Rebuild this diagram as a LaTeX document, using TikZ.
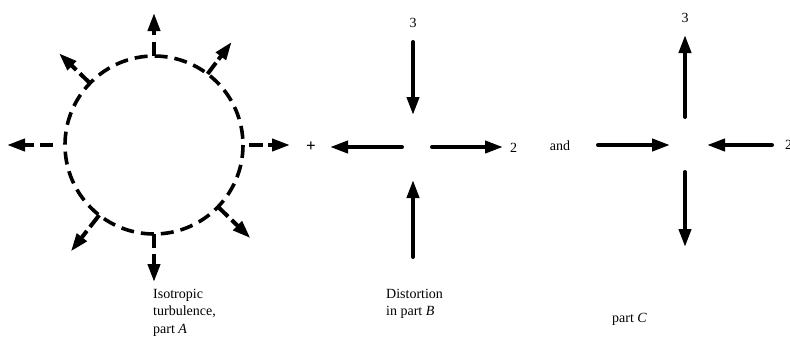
\documentclass[tikz,border=0pt]{standalone}
\usepackage{fontspec}
\setmainfont{Liberation Serif}
\usetikzlibrary{arrows.meta}
\begin{document}
\begin{tikzpicture}[x=1pt,y=-1pt,
  thick arrow/.style={line width=4pt,line cap=round,-{Triangle[length=18pt,width=12pt]}},
  stem/.style={line width=4pt},
  ring/.style={line width=3.6pt,dash pattern=on 13pt off 7pt},
  lbl/.style={font=\fontsize{14}{17}\selectfont,inner sep=0pt},
  txt/.style={font=\fontsize{14}{17.5}\selectfont,align=left,inner sep=0pt,anchor=north west}]
\useasboundingbox (0,0) rectangle (790,357);
% part A
\coordinate (ca) at (154,145);
\draw[ring] (ca) circle (89);
\foreach \a/\ri/\ro/\hi/\ho in {90/89/103/109/137, 180/101/114/120/147, 0/95/109/114/136, 270/89/103/110/132, 128/89/104/109/135, 44/89/103/108/134, 224/89/103/108/132, -53/89/103/107/129}{
  \draw[stem] ([shift={(\a:\ri)}]ca) -- ([shift={(\a:\ro)}]ca);
  \draw[thick arrow,line cap=butt] ([shift={(\a:\hi)}]ca) -- ([shift={(\a:\ho)}]ca);
}
\node[lbl,font=\fontsize{17}{17}\selectfont\bfseries] (plus) at (311,147) {+};
% part B
\coordinate (cb) at (413,147);
\coordinate (b1) at (413,42);  \coordinate (b1t) at (413,115);
\coordinate (b2) at (413,257); \coordinate (b2t) at (413,180);
\coordinate (b3) at (402,147); \coordinate (b3t) at (330,147);
\coordinate (b4) at (432,147); \coordinate (b4t) at (503,147);
\draw[thick arrow] (b1) -- (b1t);
\draw[thick arrow] (b2) -- (b2t);
\draw[thick arrow] (b3) -- (b3t);
\draw[thick arrow] (b4) -- (b4t);
\node[lbl] (b3lab) at (413,23) {3};
\node[lbl,anchor=west] (b2lab) at (510,148) {2};
% part C
\node[lbl] (and) at (560,146) {and};
\coordinate (c1) at (685,117); \coordinate (c1t) at (685,35);
\coordinate (c2) at (685,172); \coordinate (c2t) at (685,247);
\coordinate (c3) at (598,145); \coordinate (c3t) at (670,145);
\coordinate (c4) at (772,145); \coordinate (c4t) at (707,145);
\draw[thick arrow] (c1) -- (c1t);
\draw[thick arrow] (c2) -- (c2t);
\draw[thick arrow] (c3) -- (c3t);
\draw[thick arrow] (c4) -- (c4t);
\node[lbl] (c3lab) at (685,18) {3};
\node[lbl,anchor=west] (c2lab) at (785,145) {2};
% captions
\node[txt] (capA) at (153,289) {Isotropic\\turbulence,\\part \textit{A}};
\node[txt] (capB) at (386,289) {Distortion\\in part \textit{B}};
\node[txt] (capC) at (612,313) {part \textit{C}};
\end{tikzpicture}
\end{document}
